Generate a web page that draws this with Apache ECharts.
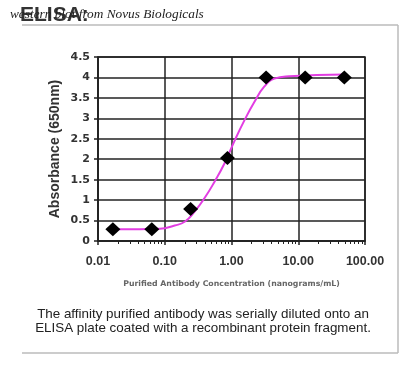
<!DOCTYPE html>
<html>
<head>
<meta charset="utf-8">
<script src="https://cdn.jsdelivr.net/npm/echarts@6/dist/echarts.min.js"></script>
<style>html,body{margin:0;padding:0;background:#fff}#c{width:400px;height:376px}</style>
</head>
<body>
<div id="c"></div>
<script>
// Measured data points (concentration ng/mL, absorbance)
var concentrations = [0.0167, 0.064, 0.244, 0.87, 3.3, 12.7, 49];
var absorbance = [0.29, 0.29, 0.78, 2.03, 4.0, 4.0, 4.0];
// Fitted curve
var curveX = [0.0167, 0.042, 0.084, 0.141, 0.199, 0.28, 0.395, 0.557, 0.787, 1.11, 1.56, 2.2, 3.11, 4.38, 7.3, 49];
var curveY = [0.29, 0.29, 0.30, 0.38, 0.47, 0.72, 1.05, 1.45, 1.9, 2.45, 2.95, 3.4, 3.78, 3.97, 4.03, 4.07];
var xTickValues = [0.01, 0.1, 1, 10, 100];
var minorTickValues = [];
[0.01, 0.1, 1, 10].forEach(function (d) { for (var k = 2; k <= 9; k++) minorTickValues.push(+(d * k).toPrecision(3)); });

var chart = echarts.init(document.getElementById('c'), null, {renderer: 'canvas'});
var lineCol = '#222';
chart.setOption({
  animation: false,
  backgroundColor: '#fff',
  grid: {left: 98, top: 57, width: 267, height: 184, show: true, borderColor: lineCol, borderWidth: 1.5},
  xAxis: [{
    type: 'log', logBase: 10, min: 0.01, max: 100,
    name: 'Purified Antibody Concentration (nanograms/mL)',
    nameLocation: 'middle', nameGap: 39,
    nameTextStyle: {fontFamily: 'DejaVu Sans', fontSize: 7.8, color: '#666', fontWeight: 'bold'},
    axisLine: {lineStyle: {color: lineCol, width: 1.5}},
    axisTick: {show: true, length: 4, lineStyle: {color: lineCol, width: 1.5}},
    axisLabel: {margin: 14, fontFamily: 'Liberation Sans', fontSize: 12.5, fontWeight: 'bold', color: '#333',
      formatter: function (v) { return (+v).toFixed(2); }},
    splitLine: {show: true, lineStyle: {color: lineCol, width: 1.5}}
  }, {
    type: 'log', logBase: 10, min: 0.01, max: 100, position: 'bottom',
    axisLine: {show: false},
    axisLabel: {show: false},
    splitLine: {show: false},
    axisTick: {show: true, length: 3, customValues: minorTickValues, lineStyle: {color: lineCol, width: 1}}
  }],
  yAxis: {
    type: 'value', min: 0, max: 4.5, interval: 0.5,
    name: 'Absorbance (650nm)', nameLocation: 'middle', nameGap: 36, nameMoveOverlap: false,
    nameTextStyle: {fontFamily: 'Liberation Sans', fontSize: 14, fontWeight: 'bold', color: '#333'},
    axisLine: {show: true, lineStyle: {color: lineCol, width: 1.5}},
    axisTick: {show: true, length: 4, lineStyle: {color: lineCol, width: 1.5}},
    axisLabel: {margin: 8, fontFamily: 'DejaVu Sans', fontSize: 11, fontWeight: 'bold', color: '#333',
      formatter: function (v) { return String(v); }},
    splitLine: {show: true, lineStyle: {color: lineCol, width: 1.5}}
  },
  series: [{
    type: 'line', smooth: 0.5, symbol: 'none',
    data: curveX.map(function (x, i) { return [x, curveY[i]]; }),
    lineStyle: {color: '#e23de2', width: 2}, z: 3
  }, {
    type: 'scatter', symbol: 'diamond', symbolSize: [15, 14],
    data: concentrations.map(function (x, i) { return [x, absorbance[i]]; }),
    itemStyle: {color: '#000', opacity: 1}, z: 4
  }],
  graphic: [
    {type: 'line', shape: {x1: 22, y1: 25, x2: 398, y2: 25}, style: {stroke: '#bbb', lineWidth: 1.5}},
    {type: 'line', shape: {x1: 398, y1: 25, x2: 398, y2: 353}, style: {stroke: '#bbb', lineWidth: 1.5}},
    {type: 'line', shape: {x1: 22, y1: 353, x2: 398, y2: 353}, style: {stroke: '#bbb', lineWidth: 1.5}},
    {type: 'text', left: 20, top: 5, style: {text: 'ELISA:', font: 'bold 21px "Liberation Sans"', fill: '#333',
      shadowBlur: 2, shadowColor: 'rgba(0,0,0,0.4)', shadowOffsetX: 1, shadowOffsetY: 1}},
    {type: 'text', left: 10, top: 8, style: {text: 'western blot from Novus Biologicals', font: 'italic 13.3px "Liberation Serif"', fill: '#222'}},
    {type: 'text', x: 203, y: 307, style: {text: 'The affinity purified antibody was serially diluted onto an\nELISA plate coated with a recombinant protein fragment.',
      font: '13.4px "Liberation Sans"', fill: '#222', align: 'center', lineHeight: 14}}
  ]
});
</script>
</body>
</html>
